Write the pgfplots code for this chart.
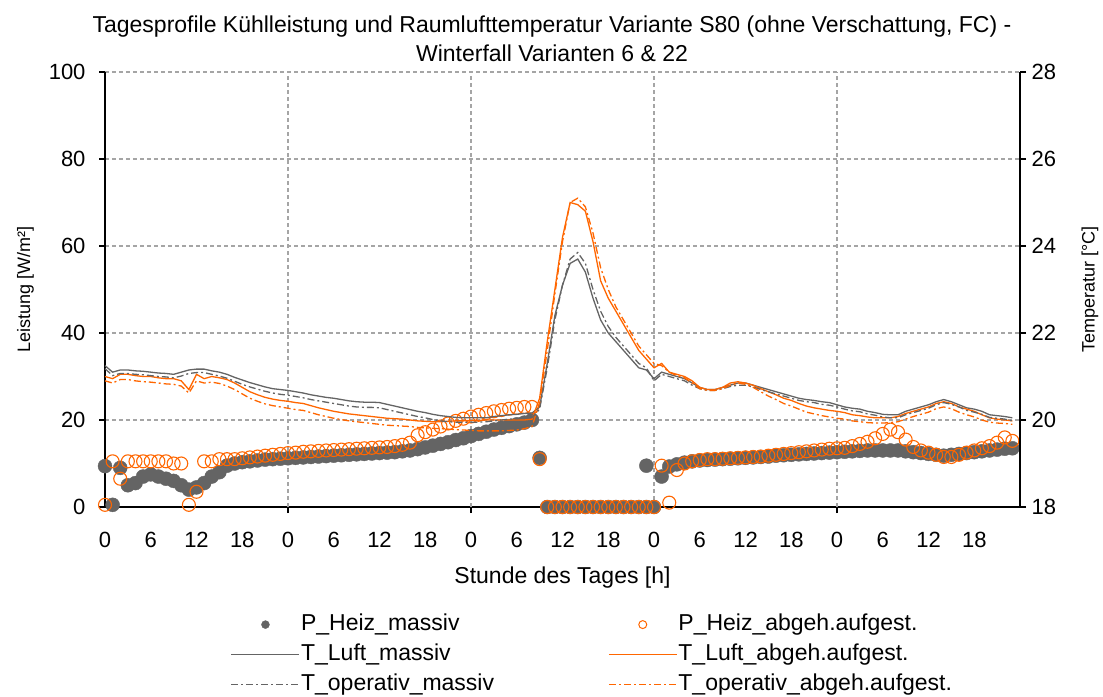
\documentclass[border=0pt]{standalone}
\usepackage{fontspec}
\setmainfont{Liberation Sans}
\usepackage{pgfplots}
\pgfplotsset{compat=1.18}
\usepackage{pgfplotstable}
\definecolor{cgray}{RGB}{100,100,100}
\definecolor{corange}{RGB}{255,102,0}
\definecolor{cgrid}{RGB}{165,165,165}

\pgfplotstableread{
h TLm TOm TLa TOa
0 21.25 21.18 21.00 20.90
1 21.10 21.02 20.95 20.85
2 21.15 21.07 21.05 20.93
3 21.15 21.07 21.05 20.93
4 21.13 21.05 21.02 20.90
5 21.12 21.04 21.00 20.88
6 21.10 21.02 21.00 20.87
7 21.08 21.00 20.97 20.85
8 21.07 20.99 20.95 20.83
9 21.05 20.97 20.95 20.82
10 21.10 21.01 20.90 20.78
11 21.15 21.07 20.70 20.62
12 21.17 21.09 21.05 20.90
13 21.17 21.09 20.95 20.85
14 21.13 21.05 21.00 20.87
15 21.10 21.01 20.97 20.84
16 21.05 20.96 20.93 20.78
17 20.98 20.89 20.85 20.70
18 20.92 20.82 20.75 20.60
19 20.86 20.76 20.65 20.50
20 20.81 20.71 20.58 20.43
21 20.76 20.66 20.52 20.37
22 20.72 20.62 20.48 20.33
23 20.70 20.59 20.45 20.30
24 20.68 20.57 20.43 20.27
25 20.65 20.54 20.40 20.24
26 20.62 20.51 20.38 20.22
27 20.58 20.47 20.33 20.17
28 20.55 20.44 20.28 20.12
29 20.52 20.41 20.24 20.08
30 20.50 20.38 20.20 20.04
31 20.47 20.35 20.17 20.01
32 20.44 20.32 20.14 19.98
33 20.42 20.30 20.12 19.96
34 20.41 20.29 20.10 19.94
35 20.41 20.29 20.08 19.92
36 20.40 20.28 20.06 19.90
37 20.36 20.24 20.04 19.88
38 20.32 20.20 20.03 19.87
39 20.28 20.16 20.02 19.86
40 20.24 20.12 20.00 19.85
41 20.20 20.08 19.98 19.83
42 20.17 20.05 19.97 19.82
43 20.13 20.01 19.96 19.81
44 20.10 19.98 19.96 19.80
45 20.08 19.96 19.97 19.79
46 20.06 19.95 19.98 19.78
47 20.05 19.95 19.98 19.77
48 20.05 19.95 19.99 19.76
49 20.05 19.95 19.99 19.75
50 20.05 19.96 20.00 19.75
51 20.08 19.98 20.00 19.75
52 20.10 20.00 20.00 19.75
53 20.12 20.02 20.00 19.76
54 20.13 20.03 20.00 19.77
55 20.15 20.05 20.00 19.80
56 20.16 20.06 20.02 19.85
57 20.30 20.25 20.50 20.40
58 21.30 21.20 21.80 21.60
59 22.40 22.30 23.00 22.90
60 23.10 23.10 24.20 24.10
61 23.60 23.70 25.00 25.00
62 23.70 23.85 24.95 25.10
63 23.40 23.60 24.80 24.90
64 22.80 23.00 24.10 24.30
65 22.30 22.50 23.20 23.50
66 22.00 22.15 22.80 23.00
67 21.80 21.90 22.50 22.60
68 21.60 21.70 22.20 22.30
69 21.40 21.50 21.90 22.00
70 21.20 21.30 21.60 21.70
71 21.15 21.20 21.40 21.50
72 20.95 20.90 21.20 21.30
73 21.10 21.05 21.30 21.25
74 21.05 21.00 21.10 21.10
75 21.00 20.95 21.05 21.02
76 20.95 20.90 21.00 20.97
77 20.85 20.80 20.90 20.85
78 20.75 20.72 20.75 20.72
79 20.70 20.68 20.70 20.68
80 20.70 20.68 20.70 20.68
81 20.75 20.72 20.75 20.72
82 20.80 20.77 20.85 20.80
83 20.85 20.80 20.88 20.85
84 20.85 20.80 20.85 20.82
85 20.80 20.76 20.80 20.75
86 20.75 20.70 20.72 20.65
87 20.70 20.65 20.65 20.55
88 20.65 20.60 20.58 20.47
89 20.60 20.55 20.50 20.38
90 20.55 20.50 20.45 20.32
91 20.50 20.45 20.38 20.25
92 20.47 20.42 20.32 20.18
93 20.45 20.40 20.28 20.14
94 20.42 20.36 20.25 20.10
95 20.40 20.34 20.22 20.07
96 20.35 20.30 20.20 20.04
97 20.30 20.25 20.17 20.02
98 20.27 20.21 20.12 19.98
99 20.25 20.19 20.10 19.96
100 20.20 20.14 20.07 19.94
101 20.17 20.11 20.05 19.93
102 20.13 20.07 20.05 19.93
103 20.12 20.05 20.05 19.94
104 20.12 20.05 20.08 19.96
105 20.20 20.12 20.15 20.02
106 20.25 20.17 20.20 20.08
107 20.30 20.22 20.25 20.13
108 20.35 20.27 20.30 20.18
109 20.42 20.35 20.38 20.26
110 20.47 20.40 20.42 20.30
111 20.42 20.36 20.38 20.26
112 20.35 20.30 20.30 20.18
113 20.28 20.22 20.25 20.12
114 20.25 20.18 20.20 20.07
115 20.20 20.13 20.12 20.00
116 20.12 20.06 20.05 19.95
117 20.10 20.04 20.02 19.93
118 20.08 20.02 20.00 19.92
119 20.05 19.98 19.98 19.90
}\Ttab

\pgfplotsset{
  myleg/.style={legend image code/.code={%
    \draw[mark repeat=2,mark phase=2,##1] plot coordinates {(0bp,0bp) (34bp,0bp) (68bp,0bp)};}},
  dashdotstyle/.style={dash pattern=on 7bp off 3bp on 2bp off 3bp},
}

\begin{document}
\begin{tikzpicture}
\useasboundingbox (-105bp,-190bp) rectangle (998bp,507bp);
\begin{axis}[
  width=915bp, height=435bp, scale only axis,
  xmin=0, xmax=120, ymin=0, ymax=100,
  axis x line=bottom, axis y line=left, axis line style={-, black, line width=1.1bp},
  xtick={0,6,...,114},
  xticklabels={0,6,12,18,0,6,12,18,0,6,12,18,0,6,12,18,0,6,12,18},
  xtick style={draw=none},
  extra x ticks={24,48,72,96},
  extra x tick labels={},
  extra x tick style={grid=major, xtick style={draw=black, line width=1.1bp}},
  ytick={0,20,...,100},
  ymajorgrids,
  grid style={cgrid, line width=1.1bp, dash pattern=on 4bp off 3bp},
  tick align=outside, major tick length=6bp,
  ytick style={black, line width=1.1bp},
  /pgf/number format/assume math mode=true,
  ticklabel style={font=\fontsize{22bp}{24bp}\selectfont},
  xticklabel style={yshift=-16bp},
  yticklabel style={xshift=-10bp},
  xlabel={Stunde des Tages [h]},
  xlabel style={at={(axis description cs:0.5,-0.163)}, anchor=center, font=\fontsize{23bp}{26bp}\selectfont},
  ylabel={Leistung [W/m²]},
  ylabel style={at={(axis description cs:-0.087,0.5)}, anchor=center, font=\fontsize{18bp}{20bp}\selectfont},
  clip=false,
]
\addplot[only marks, mark=*, mark size=7bp, cgray, mark options={draw=cgray, fill=cgray}] coordinates {
(0,9.4) (1,0.5) (2,9) (3,5) (4,5.5) (5,7) (6,7.5) (7,7) (8,6.5) (9,6) (10,5) (11,4) (12,4.5) (13,5.5) (14,7) (15,8) (16,9.5) (17,10) (18,10.3) (19,10.5) (20,10.7) (21,10.9) (22,11) (23,11.1) (24,11.2) (25,11.3) (26,11.4) (27,11.5) (28,11.6) (29,11.7) (30,11.8) (31,11.9) (32,12) (33,12.1) (34,12.2) (35,12.3) (36,12.4) (37,12.5) (38,12.6) (39,12.8) (40,13) (41,13.3) (42,13.7) (43,14.1) (44,14.5) (45,14.9) (46,15.4) (47,15.8) (48,16.3) (49,16.8) (50,17.3) (51,17.8) (52,18.2) (53,18.6) (54,19) (55,19.4) (56,20) (57,11.3)
(58,0) (59,0) (60,0) (61,0) (62,0) (63,0) (64,0) (65,0) (66,0) (67,0) (68,0) (69,0) (70,0) (71,0) (72,0) (71,9.5)
(73,7) (74,9.3) (75,9.8) (76,10.2) (77,10.5) (78,10.7) (79,10.8) (80,10.9) (81,11) (82,11.1) (83,11.2) (84,11.3) (85,11.4) (86,11.5) (87,11.6) (88,11.8) (89,11.9) (90,12) (91,12.1) (92,12.2) (93,12.3) (94,12.4) (95,12.5) (96,12.6) (97,12.7) (98,12.8) (99,12.9) (100,13) (101,13) (102,13) (103,13) (104,13) (105,12.8) (106,12.6) (107,12.4) (108,12.2) (109,12) (110,11.8) (111,12) (112,12.2) (113,12.4) (114,12.6) (115,12.8) (116,13) (117,13.2) (118,13.4) (119,13.5)
};
\addplot[only marks, mark=o, mark size=6.5bp, corange, mark options={draw=corange, line width=1.1bp}] coordinates {
(0,0.5) (1,10.5) (2,6.5) (3,10.5) (4,10.5) (5,10.5) (6,10.5) (7,10.5) (8,10.5) (9,10) (10,10) (11,0.5) (12,3.5) (13,10.5) (14,10.5) (15,11) (16,11) (17,11) (18,11.2) (19,11.4) (20,11.6) (21,11.8) (22,12) (23,12.2) (24,12.4) (25,12.5) (26,12.7) (27,12.8) (28,12.9) (29,13) (30,13.1) (31,13.2) (32,13.3) (33,13.4) (34,13.5) (35,13.6) (36,13.7) (37,13.8) (38,14) (39,14.3) (40,14.8) (41,16.5) (42,17.2) (43,17.8) (44,18.5) (45,19.2) (46,19.8) (47,20.3) (48,20.8) (49,21.2) (50,21.6) (51,22) (52,22.3) (53,22.6) (54,22.8) (55,23) (56,23) (57,11)
(58,0) (59,0) (60,0) (61,0) (62,0) (63,0) (64,0) (65,0) (66,0) (67,0) (68,0) (69,0) (70,0) (71,0) (72,0)
(73,9.5) (74,1) (75,8.5) (76,10) (77,10.5) (78,10.8) (79,11) (80,11) (81,11.1) (82,11.2) (83,11.3) (84,11.4) (85,11.5) (86,11.6) (87,11.8) (88,12) (89,12.2) (90,12.4) (91,12.6) (92,12.8) (93,13) (94,13.2) (95,13.4) (96,13.5) (97,13.6) (98,14) (99,14.5) (100,15) (101,15.8) (102,16.8) (103,17.8) (104,17.2) (105,15.5) (106,13.8) (107,13) (108,12.5) (109,12) (110,11.5) (111,11.5) (112,12) (113,12.5) (114,13) (115,13.5) (116,14) (117,14.8) (118,16) (119,15.2)
};
\end{axis}
\begin{axis}[
  width=915bp, height=435bp, scale only axis,
  xmin=0, xmax=120, ymin=18, ymax=28,
  axis y line=right, axis x line=none, axis line style={-, black, line width=1.1bp},
  ytick={18,20,...,28},
  tick align=outside, major tick length=6bp,
  ytick style={black, line width=1.1bp},
  /pgf/number format/assume math mode=true,
  ticklabel style={font=\fontsize{22bp}{24bp}\selectfont},
  yticklabel style={xshift=2bp},
  ylabel={Temperatur [°C]},
  ylabel style={at={(axis description cs:1.0765,0.5)}, anchor=center, font=\fontsize{18bp}{20bp}\selectfont},
  myleg,
  legend columns=2,
  legend cell align=left,
  legend style={draw=none, fill=none, at={(axis description cs:0.134,-0.2308)}, anchor=north west,
    font=\fontsize{23bp}{26bp}\selectfont,
    nodes={inner xsep=1bp, inner ysep=3.5bp, text height=17bp, text depth=6bp},
    /tikz/every even column/.append style={column sep=113bp}},
  clip=false,
]
\addlegendimage{only marks, mark=*, mark size=4bp, cgray}
\addlegendentry{P\_Heiz\_massiv}
\addlegendimage{only marks, mark=o, mark size=4bp, corange, line width=1bp}
\addlegendentry{P\_Heiz\_abgeh.aufgest.}
\addplot[cgray, line width=1.3bp] table[x=h, y=TLm] {\Ttab};
\addlegendentry{T\_Luft\_massiv}
\addplot[corange, line width=1.3bp] table[x=h, y=TLa] {\Ttab};
\addlegendentry{T\_Luft\_abgeh.aufgest.}
\addplot[cgray, line width=1.3bp, dashdotstyle] table[x=h, y=TOm] {\Ttab};
\addlegendentry{T\_operativ\_massiv}
\addplot[corange, line width=1.3bp, dashdotstyle] table[x=h, y=TOa] {\Ttab};
\addlegendentry{T\_operativ\_abgeh.aufgest.}
\end{axis}
\node[align=center, font=\fontsize{23bp}{29bp}\selectfont, anchor=center] at (447bp,468bp)
  {Tagesprofile Kühlleistung und Raumlufttemperatur Variante S80 (ohne Verschattung, FC) -\\ Winterfall Varianten 6 \& 22};
\end{tikzpicture}
\end{document}
